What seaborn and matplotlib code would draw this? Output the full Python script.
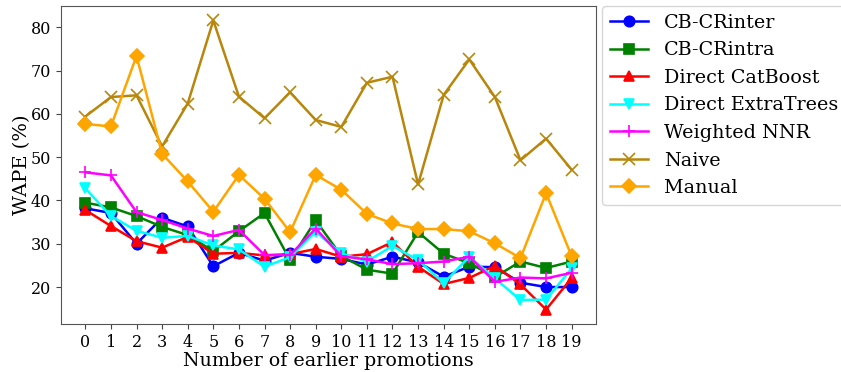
import matplotlib
matplotlib.use("Agg")
import matplotlib.pyplot as plt
import seaborn as sns
import pandas as pd

x_vals = list(range(20))

cb_crinter = [38.2, 37.1, 30.0, 36.0, 34.0, 24.8, 27.9, 26.1, 27.9, 27.0, 26.5, 25.2, 27.0, 25.7, 22.4, 24.7, 24.6, 21.0, 20.0, 20.0]
cb_crintra = [39.5, 38.4, 36.4, 33.9, 32.0, 28.3, 32.9, 37.1, 26.2, 35.4, 27.2, 24.0, 23.1, 32.7, 27.7, 25.5, 22.3, 25.9, 24.4, 25.9]
direct_catboost = [37.8, 34.1, 30.6, 29.1, 31.6, 27.7, 27.9, 27.3, 27.6, 28.8, 27.0, 27.6, 30.4, 24.7, 20.7, 22.1, 24.9, 20.6, 14.8, 22.1]
direct_extratrees = [42.8, 36.4, 33.0, 31.4, 31.8, 29.6, 28.7, 24.7, 26.9, 32.8, 27.8, 25.9, 29.5, 26.2, 20.9, 27.0, 22.0, 17.0, 17.1, 24.3]
weighted_nnr = [46.5, 45.8, 37.3, 35.5, 33.5, 31.8, 33.2, 27.4, 27.4, 33.5, 27.1, 26.4, 25.3, 25.5, 25.9, 27.0, 21.2, 22.2, 22.0, 23.3]
naive = [59.4, 63.9, 64.3, 52.5, 62.4, 81.6, 64.0, 59.0, 65.0, 58.6, 57.0, 67.2, 68.6, 43.7, 64.4, 72.6, 63.9, 49.3, 54.3, 47.1]
manual = [57.7, 57.1, 73.4, 50.8, 44.4, 37.4, 45.9, 40.4, 32.7, 45.9, 42.5, 36.9, 34.7, 33.4, 33.4, 32.9, 30.1, 26.7, 41.7, 27.1]

series_names = ["CB-CRinter", "CB-CRintra", "Direct CatBoost", "Direct ExtraTrees",
                "Weighted NNR", "Naive", "Manual"]
series_values = [cb_crinter, cb_crintra, direct_catboost, direct_extratrees,
                 weighted_nnr, naive, manual]
colors = ["blue", "green", "red", "cyan", "magenta", "darkgoldenrod", "orange"]
markers = ["o", "s", "^", "v", "+", "x", "D"]
marker_sizes = [7.5, 7.5, 7.5, 7.5, 8.5, 8.5, 7.5]

plt.rcParams["font.family"] = ["DejaVu Serif"]

fig = plt.figure(figsize=(8.41, 3.72), dpi=100)
ax = fig.add_axes([61 / 841, 48 / 372, 535 / 841, 318 / 372])

for name, vals, c, m, ms in zip(series_names, series_values, colors, markers, marker_sizes):
    df = pd.DataFrame({"x": x_vals, "y": vals})
    sns.lineplot(data=df, x="x", y="y", ax=ax, color=c, marker=m, markersize=ms,
                 linewidth=1.8, label=name, markeredgecolor=c, markeredgewidth=1.2)

ax.set_xticks(x_vals)
ax.set_xticklabels([str(v) for v in x_vals])
ax.set_yticks([20, 30, 40, 50, 60, 70, 80])
ax.tick_params(labelsize=11.5, color="#444444")
ax.set_xlabel("Number of earlier promotions", fontsize=13.7, labelpad=1)
ax.set_ylabel("WAPE (%)", fontsize=14, labelpad=0)
for s in ax.spines.values():
    s.set_color("#555555")

ax.legend(loc="upper left", bbox_to_anchor=(1.012, 1.0), fontsize=13.8,
          frameon=True, borderaxespad=0.0, handlelength=2.0)

fig.savefig("out.png", dpi=100)
